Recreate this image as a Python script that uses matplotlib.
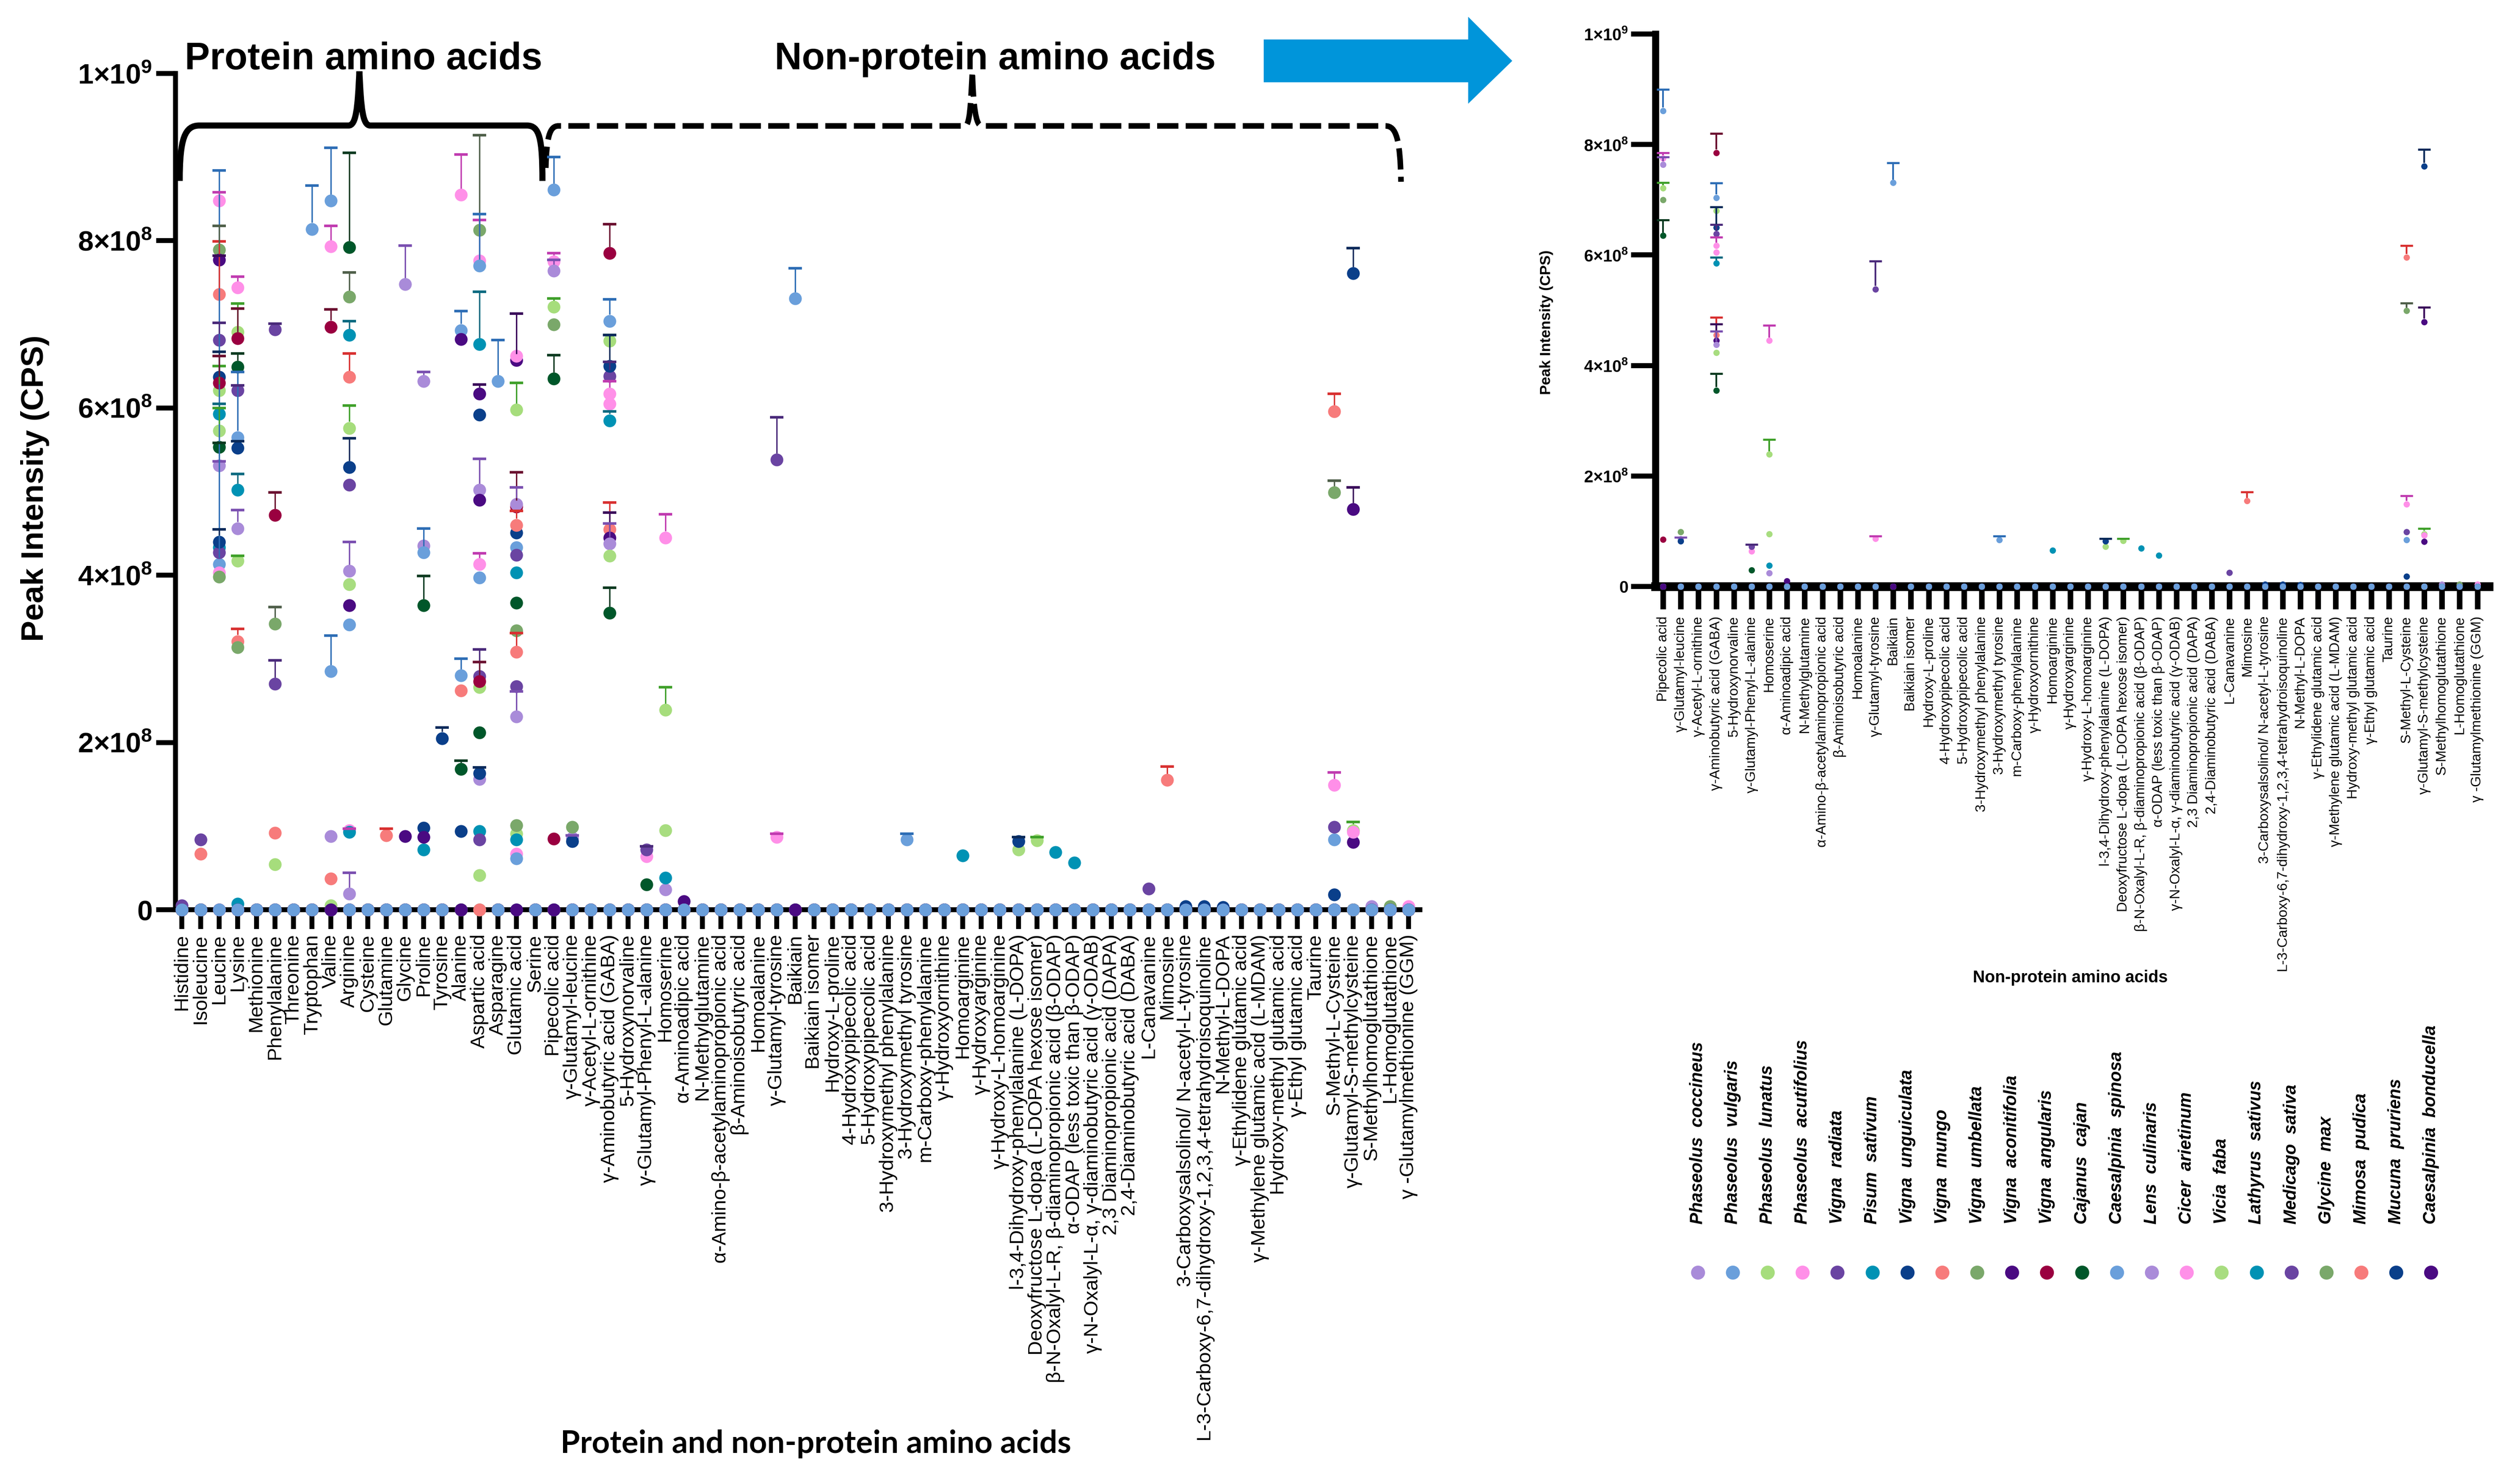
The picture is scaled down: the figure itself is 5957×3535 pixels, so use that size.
import matplotlib
matplotlib.use("Agg")
import matplotlib.pyplot as plt
import numpy as np
from matplotlib.path import Path
from matplotlib.patches import PathPatch, Polygon

plt.rcParams['font.family'] = ['Liberation Sans', 'DejaVu Sans']
plt.rcParams['mathtext.fontset'] = 'custom'
plt.rcParams['mathtext.rm'] = 'Liberation Sans'
plt.rcParams['mathtext.bf'] = 'Liberation Sans:bold'

protein_aa = ["Histidine", "Isoleucine", "Leucine", "Lysine", "Methionine", "Phenylalanine",
              "Threonine", "Tryptophan", "Valine", "Arginine", "Cysteine", "Glutamine",
              "Glycine", "Proline", "Tyrosine", "Alanine", "Aspartic acid", "Asparagine",
              "Glutamic acid", "Serine"]

non_protein_aa = ["Pipecolic acid", "γ-Glutamyl-leucine", "γ-Acetyl-L-ornithine",
                  "γ-Aminobutyric acid (GABA)", "5-Hydroxynorvaline", "γ-Glutamyl-Phenyl-L-alanine",
                  "Homoserine", "α-Aminoadipic acid", "N-Methylglutamine",
                  "α-Amino-β-acetylaminopropionic acid", "β-Aminoisobutyric acid", "Homoalanine",
                  "γ-Glutamyl-tyrosine", "Baikiain", "Baikiain isomer", "Hydroxy-L-proline",
                  "4-Hydroxypipecolic acid", "5-Hydroxypipecolic acid", "3-Hydroxymethyl phenylalanine",
                  "3-Hydroxymethyl tyrosine", "m-Carboxy-phenylalanine", "γ-Hydroxyornithine",
                  "Homoarginine", "γ-Hydroxyarginine", "γ-Hydroxy-L-homoarginine",
                  "l-3,4-Dihydroxy-phenylalanine (L-DOPA)", "Deoxyfructose L-dopa (L-DOPA hexose isomer)",
                  "β-N-Oxalyl-L-R, β-diaminopropionic acid (β-ODAP)", "α-ODAP (less toxic than β-ODAP)",
                  "γ-N-Oxalyl-L-α, γ-diaminobutyric acid (γ-ODAB)", "2,3 Diaminopropionic acid (DAPA)",
                  "2,4-Diaminobutyric acid (DABA)", "L-Canavanine", "Mimosine",
                  "3-Carboxysalsolinol/ N-acetyl-L-tyrosine",
                  "L-3-Carboxy-6,7-dihydroxy-1,2,3,4-tetrahydroisoquinoline", "N-Methyl-L-DOPA",
                  "γ-Ethylidene glutamic acid", "γ-Methylene glutamic acid (L-MDAM)",
                  "Hydroxy-methyl glutamic acid", "γ-Ethyl glutamic acid", "Taurine",
                  "S-Methyl-L-Cysteine", "γ-Glutamyl-S-methylcysteine", "S-Methylhomoglutathione",
                  "L-Homoglutathione", "γ -Glutamylmethionine (GGM)"]

amino_acids = protein_aa + non_protein_aa

species = ["Phaseolus  coccineus", "Phaseolus  vulgaris", "Phaseolus  lunatus", "Phaseolus  acutifolius",
           "Vigna  radiata", "Pisum  sativum", "Vigna  unguiculata", "Vigna  mungo", "Vigna  umbellata",
           "Vigna  aconitifolia", "Vigna  angularis", "Cajanus  cajan", "Caesalpinia  spinosa",
           "Lens  culinaris", "Cicer  arietinum", "Vicia  faba", "Lathyrus  sativus", "Medicago  sativa",
           "Glycine  max", "Mimosa  pudica", "Mucuna  pruriens", "Caesalpinia  bonducella"]

marker_colors = ["#a98bd9", "#6a9fdb", "#a6dd7c", "#ff8fe8", "#6a44a2", "#0092b4", "#0a3f8a",
                 "#f77b7b", "#7aa86a", "#4a0a82", "#9a0040", "#00572a", "#6a9fdb", "#aa8bd9",
                 "#ff90e8", "#a8dd80", "#0092b4", "#6a44a2", "#7aa86a", "#f77b7b", "#0a3f8a", "#4a0a82"]

error_colors = ["#7a4fb0", "#2d6db5", "#3fa02a", "#c03bb0", "#4a2a7a", "#0b6a80", "#0a2a5a",
                "#d83030", "#4f5f4a", "#3a0a5a", "#6b1030", "#0b3a20", "#2d6db5", "#7a4fb0",
                "#c03bb0", "#3fa02a", "#0b6a80", "#4a2a7a", "#4f5f4a", "#d83030", "#0a2a5a", "#3a0a5a"]

# peak intensity, units of 1e8 CPS: {amino acid: (mean, SD)}; everything else is 0
p_coccineus = {"Leucine": (5.31, 0.05), "Lysine": (4.56, 0.22), "Valine": (0.88, 0),
               "Arginine": (0.19, 0.25), "Glycine": (7.48, 0.46), "Proline": (4.35, 0),
               "Aspartic acid": (1.56, 0), "Glutamic acid": (2.31, 0.3), "γ-Glutamyl-leucine": (0.86, 0.03)}
p_vulgaris = {"Leucine": (4.13, 4.71), "Lysine": (5.65, 0.78), "Tryptophan": (8.14, 0.52),
              "Valine": (2.85, 0.43), "Arginine": (3.41, 0), "Proline": (4.27, 0.29),
              "Alanine": (6.93, 0.23), "Aspartic acid": (3.97, 0), "Asparagine": (6.32, 0.49),
              "Glutamic acid": (4.33, 0), "γ-Aminobutyric acid (GABA)": (7.04, 0.26),
              "3-Hydroxymethyl tyrosine": (0.84, 0.07), "S-Methyl-L-Cysteine": (0.84, 0)}
p_lunatus = {"Leucine": (6.21, 0.29), "Lysine": (6.91, 0.34), "Phenylalanine": (0.54, 0),
             "Arginine": (5.76, 0.27), "Aspartic acid": (2.66, 0), "Glutamic acid": (5.98, 0.32),
             "Pipecolic acid": (7.21, 0.10), "γ-Aminobutyric acid (GABA)": (6.80, 0.07),
             "Homoserine": (2.39, 0.27), "Deoxyfructose L-dopa (L-DOPA hexose isomer)": (0.83, 0.04),
             "γ-Glutamyl-S-methylcysteine": (0.95, 0.10)}
p_acutifolius = {"Leucine": (8.48, 0.10), "Lysine": (7.44, 0.13), "Aspartic acid": (7.76, 0.49),
                 "Glutamic acid": (0.67, 0), "Pipecolic acid": (7.75, 0.10),
                 "γ-Aminobutyric acid (GABA)": (6.05, 0), "Homoserine": (4.45, 0.28),
                 "S-Methyl-L-Cysteine": (1.49, 0.15)}
v_radiata = {"Histidine": (0.05, 0), "Isoleucine": (0.84, 0), "Leucine": (6.81, 0.21),
             "Lysine": (6.21, 0.06), "Phenylalanine": (2.70, 0.28), "Arginine": (5.08, 0),
             "Aspartic acid": (2.79, 0.32), "Glutamic acid": (4.24, 0),
             "γ-Aminobutyric acid (GABA)": (6.38, 0.17), "γ-Glutamyl-tyrosine": (5.38, 0.51),
             "S-Methyl-L-Cysteine": (0.99, 0)}
p_sativum = {"Leucine": (5.93, 0.12), "Lysine": (5.02, 0.19), "Arginine": (6.87, 0.17),
             "Proline": (0.72, 0), "Aspartic acid": (6.76, 0.63), "Glutamic acid": (4.03, 0),
             "γ-Aminobutyric acid (GABA)": (5.85, 0.11), "Homoarginine": (0.65, 0)}
v_unguiculata = {"Leucine": (6.37, 0.30), "Lysine": (5.52, 0.08), "Arginine": (5.29, 0.35),
                 "Proline": (0.98, 0), "Tyrosine": (2.05, 0.13), "Alanine": (0.94, 0),
                 "Aspartic acid": (5.92, 0), "Glutamic acid": (4.51, 0), "γ-Glutamyl-leucine": (0.82, 0),
                 "γ-Aminobutyric acid (GABA)": (6.50, 0.37), "S-Methyl-L-Cysteine": (0.18, 0)}
v_mungo = {"Isoleucine": (0.67, 0), "Leucine": (7.36, 0.63), "Lysine": (3.21, 0.15),
           "Phenylalanine": (0.92, 0), "Valine": (0.37, 0), "Arginine": (6.37, 0.28),
           "Glutamine": (0.89, 0.08), "Alanine": (2.62, 0), "Glutamic acid": (4.60, 0.17),
           "γ-Aminobutyric acid (GABA)": (4.55, 0.32), "S-Methyl-L-Cysteine": (5.96, 0.21)}
v_umbellata = {"Leucine": (7.89, 0.29), "Lysine": (3.14, 0), "Phenylalanine": (3.42, 0.20),
               "Arginine": (7.33, 0.29), "Aspartic acid": (8.13, 1.13), "Glutamic acid": (3.34, 0),
               "Pipecolic acid": (7.00, 0), "S-Methyl-L-Cysteine": (4.99, 0.14)}
v_aconitifolia = {"Leucine": (7.77, 0.05), "Arginine": (3.64, 0), "Glycine": (0.88, 0),
                  "Proline": (0.87, 0), "Alanine": (6.82, 0), "Aspartic acid": (6.17, 0.11),
                  "Glutamic acid": (6.57, 0.56), "γ-Aminobutyric acid (GABA)": (4.45, 0.30),
                  "α-Aminoadipic acid": (0.10, 0), "γ-Glutamyl-S-methylcysteine": (0.81, 0)}
v_angularis = {"Leucine": (6.30, 0.32), "Lysine": (6.83, 0.36), "Phenylalanine": (4.72, 0.27),
               "Valine": (6.97, 0.21), "Aspartic acid": (2.73, 0.23), "Glutamic acid": (4.82, 0.41),
               "Pipecolic acid": (0.85, 0), "γ-Aminobutyric acid (GABA)": (7.85, 0.35)}
c_cajan = {"Leucine": (5.53, 0.05), "Lysine": (6.49, 0.16), "Arginine": (7.92, 1.13),
           "Proline": (3.64, 0.35), "Alanine": (1.68, 0.10), "Aspartic acid": (2.12, 0),
           "Glutamic acid": (3.67, 0), "Pipecolic acid": (6.35, 0.28),
           "γ-Aminobutyric acid (GABA)": (3.55, 0.30), "γ-Glutamyl-Phenyl-L-alanine": (0.30, 0)}
c_spinosa = {"Valine": (8.48, 0.63), "Alanine": (2.80, 0.20), "Aspartic acid": (7.70, 0.62),
             "Glutamic acid": (0.61, 0), "Pipecolic acid": (8.61, 0.39), "Baikiain": (7.31, 0.36)}
l_culinaris = {"Arginine": (4.05, 0.35), "Proline": (6.32, 0.11), "Aspartic acid": (5.02, 0.37),
               "Glutamic acid": (4.85, 0.20), "Pipecolic acid": (7.64, 0.13),
               "γ-Aminobutyric acid (GABA)": (4.38, 0.24), "Homoserine": (0.24, 0),
               "S-Methylhomoglutathione": (0.04, 0)}
c_arietinum = {"Leucine": (4.03, 0), "Valine": (7.93, 0.25), "Arginine": (0.95, 0.02),
               "Alanine": (8.55, 0.48), "Aspartic acid": (4.13, 0.13), "Glutamic acid": (6.62, 0),
               "γ-Aminobutyric acid (GABA)": (6.17, 0.15), "γ-Glutamyl-Phenyl-L-alanine": (0.64, 0),
               "γ-Glutamyl-tyrosine": (0.87, 0.04), "γ-Glutamyl-S-methylcysteine": (0.93, 0),
               "γ -Glutamylmethionine (GGM)": (0.04, 0)}
v_faba = {"Leucine": (5.73, 0.27), "Lysine": (4.17, 0.06), "Valine": (0.05, 0), "Arginine": (3.89, 0),
          "Aspartic acid": (0.41, 0), "Glutamic acid": (0.91, 0), "γ-Aminobutyric acid (GABA)": (4.23, 0),
          "Homoserine": (0.95, 0), "l-3,4-Dihydroxy-phenylalanine (L-DOPA)": (0.72, 0)}
l_sativus = {"Leucine": (4.33, 0), "Lysine": (0.07, 0), "Arginine": (0.93, 0), "Aspartic acid": (0.94, 0),
             "Glutamic acid": (0.84, 0), "Homoserine": (0.38, 0),
             "β-N-Oxalyl-L-R, β-diaminopropionic acid (β-ODAP)": (0.69, 0),
             "α-ODAP (less toxic than β-ODAP)": (0.56, 0)}
m_sativa = {"Leucine": (4.27, 0), "Phenylalanine": (6.94, 0.07), "Aspartic acid": (0.84, 0),
            "Glutamic acid": (2.67, 0), "γ-Glutamyl-Phenyl-L-alanine": (0.72, 0.04), "L-Canavanine": (0.25, 0)}
g_max = {"Leucine": (3.98, 0), "Glutamic acid": (1.01, 0), "γ-Glutamyl-leucine": (0.99, 0),
         "L-Homoglutathione": (0.04, 0)}
m_pudica = {"Glutamic acid": (3.08, 0.23), "Mimosine": (1.55, 0.16)}
m_pruriens = {"Leucine": (4.40, 0.15), "Aspartic acid": (1.63, 0.07),
              "l-3,4-Dihydroxy-phenylalanine (L-DOPA)": (0.82, 0.05),
              "3-Carboxysalsolinol/ N-acetyl-L-tyrosine": (0.04, 0),
              "L-3-Carboxy-6,7-dihydroxy-1,2,3,4-tetrahydroisoquinoline": (0.04, 0),
              "N-Methyl-L-DOPA": (0.03, 0), "γ-Glutamyl-S-methylcysteine": (7.61, 0.30)}
c_bonducella = {"Aspartic acid": (4.90, 0), "γ-Glutamyl-S-methylcysteine": (4.79, 0.26)}

series = [p_coccineus, p_vulgaris, p_lunatus, p_acutifolius, v_radiata, p_sativum, v_unguiculata,
          v_mungo, v_umbellata, v_aconitifolia, v_angularis, c_cajan, c_spinosa, l_culinaris,
          c_arietinum, v_faba, l_sativus, m_sativa, g_max, m_pudica, m_pruriens, c_bonducella]

means = np.zeros((len(species), len(amino_acids)))
sds = np.zeros_like(means)
for s, d in enumerate(series):
    for name, (m, e) in d.items():
        k = amino_acids.index(name)
        means[s, k] = m * 1e8
        sds[s, k] = e * 1e8

W, H = 5957, 3535
DPI = 300
fig = plt.figure(figsize=(W / DPI, H / DPI), dpi=DPI)


def fbox(x0, y0, x1, y1):
    # pixel box (y down) -> figure fraction rect
    return [x0 / W, 1 - y1 / H, (x1 - x0) / W, (y1 - y0) / H]


ov = fig.add_axes([0, 0, 1, 1])
ov.set_xlim(0, W)
ov.set_ylim(H, 0)
ov.axis('off')

ytick_vals = [0, 2e8, 4e8, 6e8, 8e8, 1e9]
ytick_labels = [r'$\mathbf{0}$', r'$\mathbf{2{\times}10^{8}}$', r'$\mathbf{4{\times}10^{8}}$',
                r'$\mathbf{6{\times}10^{8}}$', r'$\mathbf{8{\times}10^{8}}$', r'$\mathbf{1{\times}10^{9}}$']


def draw_panel(ax, cols, msize, cap, elw, cthick):
    x = np.arange(len(cols))
    hpx = ax.get_position().height * H
    off = (msize / 2) * DPI / 72 / hpx * 1e9
    for s in range(len(species)):
        y = means[s, cols]
        e = sds[s, cols]
        z = 3.5 if s == 12 else 3 + s * 0.01
        ax.plot(x, y, 'o', ms=msize, color=marker_colors[s], mec='none', zorder=z, clip_on=False)
        has = e > 0
        if has.any():
            lo = np.minimum(y[has] + off, y[has] + e[has])
            ax.vlines(x[has], lo, y[has] + e[has], color=error_colors[s], lw=elw, zorder=4)
            ax.plot(x[has], y[has] + e[has], '_', ms=cap, mew=cthick, color=error_colors[s],
                    zorder=4, clip_on=False)
    ax.set_ylim(0, 1e9)
    ax.set_yticks(ytick_vals)
    ax.set_yticklabels(ytick_labels)
    ax.set_xticks(x)
    ax.set_xticklabels([amino_acids[c] for c in cols], rotation=90, va='top', ha='center')
    ax.spines['top'].set_visible(False)
    ax.spines['right'].set_visible(False)
    ax.patch.set_alpha(0)


# left panel: all amino acids
axl = fig.add_axes(fbox(418, 175, 3382, 2167))
draw_panel(axl, list(range(len(amino_acids))), 7.3, 7.6, 0.8, 1.5)
axl.set_xlim(-0.35, len(amino_acids) - 0.4)
for sp in ['left', 'bottom']:
    axl.spines[sp].set_linewidth(2.8)
axl.tick_params(axis='y', length=11, width=2.8, labelsize=16, pad=2.5)
axl.tick_params(axis='x', length=11, width=2.8, labelsize=11.4, pad=3)
fig.text(84 / W, 1 - 1163 / H, 'Peak Intensity (CPS)', rotation=90, ha='center', va='center',
         fontsize=18, fontweight='bold')
fig.text(1943 / W, 1 - 3440 / H, 'Protein and non-protein amino acids', ha='center', va='center',
         fontsize=18, fontweight='bold', family=['Lato', 'DejaVu Sans'])

# right panel: non-protein amino acids only
npcols = [amino_acids.index(n) for n in non_protein_aa]
axr = fig.add_axes(fbox(3943, 81, 5928, 1397))
draw_panel(axr, npcols, 3.6, 7.0, 1.0, 1.2)
axr.set_xlim(-0.43, len(npcols) - 0.35)
axr.spines['left'].set_linewidth(4.0)
axr.spines['bottom'].set_linewidth(5.0)
axr.tick_params(axis='y', length=14, width=2.9, labelsize=9.5, pad=1.5)
axr.tick_params(axis='x', length=13, width=3.2, labelsize=8, pad=4)
fig.text(3683 / W, 1 - 768 / H, 'Peak Intensity (CPS)', rotation=90, ha='center', va='center',
         fontsize=8.5, fontweight='bold')
fig.text(4931 / W, 1 - 2329 / H, 'Non-protein amino acids', ha='center', va='center',
         fontsize=9.5, fontweight='bold')

# species key
lg = fig.add_axes(fbox(4002, 2400, 5832, 3100))
lg.set_xlim(-0.5, len(species) - 0.5)
lg.set_ylim(0, 1)
lg.axis('off')
for k, name in enumerate(species):
    lg.plot(k, 0.0986, 'o', ms=8, color=marker_colors[k], mec='none')
    lg.text(k, 0.263, name, rotation=90, ha='center', va='bottom', fontsize=10,
            fontweight='bold', style='italic')

# group braces and titles
solid = Path([(428, 431), (428, 330), (440, 299), (475, 299), (830, 299),
              (848, 299), (852, 260), (856, 170), (860, 260), (864, 299), (882, 299),
              (1255, 299), (1285, 299), (1292, 330), (1292, 431)],
             [Path.MOVETO, Path.CURVE4, Path.CURVE4, Path.CURVE4, Path.LINETO,
              Path.CURVE4, Path.CURVE4, Path.CURVE4, Path.CURVE4, Path.CURVE4, Path.CURVE4,
              Path.LINETO, Path.CURVE4, Path.CURVE4, Path.CURVE4])
ov.add_patch(PathPatch(solid, fill=False, lw=3.5, color='black', capstyle='butt'))
dashed = Path([(1300, 400), (1302, 330), (1308, 300), (1330, 300), (2298, 300),
               (2310, 300), (2312, 250), (2316, 170), (2318, 250), (2324, 300), (2338, 300),
               (3300, 300), (3325, 300), (3335, 330), (3337, 433)],
              [Path.MOVETO, Path.CURVE4, Path.CURVE4, Path.CURVE4, Path.LINETO,
               Path.CURVE4, Path.CURVE4, Path.CURVE4, Path.CURVE4, Path.CURVE4, Path.CURVE4,
               Path.LINETO, Path.CURVE4, Path.CURVE4, Path.CURVE4])
ov.add_patch(PathPatch(dashed, fill=False, lw=3.2, color='black', linestyle=(0, (3.8, 1.3)),
                       capstyle='butt'))
ov.text(866, 165, 'Protein amino acids', ha='center', va='baseline', fontsize=21.5, fontweight='bold')
ov.text(2370, 165, 'Non-protein amino acids', ha='center', va='baseline', fontsize=21.5,
        fontweight='bold')
ov.add_patch(Polygon([(3010, 94), (3497, 94), (3497, 40), (3602, 145), (3497, 247), (3497, 196),
                      (3010, 196)], closed=True, color='#0095da', lw=0))

fig.savefig('out.png', dpi=DPI)
